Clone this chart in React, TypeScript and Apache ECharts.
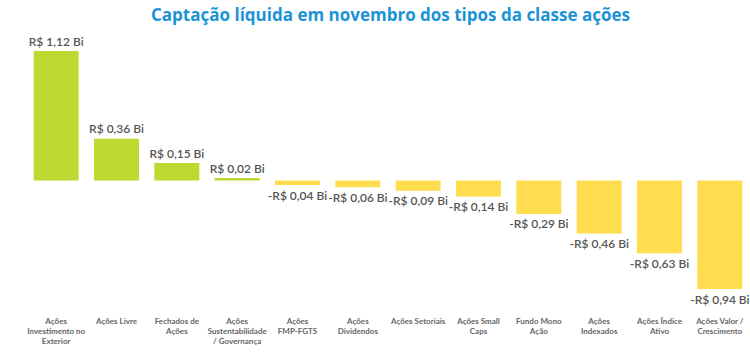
import React, { useEffect, useRef } from "react";
import * as echarts from "echarts";

const title = "Captação líquida em novembro dos tipos da classe ações";
const categories = [
  "Ações\nInvestimento no\nExterior",
  "Ações Livre",
  "Fechados de\nAções",
  "Ações\nSustentabilidade\n/ Governança",
  "Ações\nFMP-FGTS",
  "Ações\nDividendos",
  "Ações Setoriais",
  "Ações Small\nCaps",
  "Fundo Mono\nAção",
  "Ações\nIndexados",
  "Ações Índice\nAtivo",
  "Ações Valor /\nCrescimento",
];
const values = [1.12, 0.36, 0.15, 0.02, -0.04, -0.06, -0.09, -0.14, -0.29, -0.46, -0.63, -0.94];

const fmt = (v: number) => (v < 0 ? "-" : "") + "R$ " + Math.abs(v).toFixed(2).replace(".", ",") + " Bi";

export default function App() {
  const ref = useRef<HTMLDivElement>(null);
  useEffect(() => {
    if (!ref.current) return;
    const chart = echarts.init(ref.current, null, { renderer: "svg" });
    chart.setOption({
      animation: false,
      title: {
        text: title,
        left: 146,
        top: 1,
        textStyle: { fontSize: 17, fontWeight: "bold", color: "#1B93D6", fontFamily: "Open Sans" },
      },
      grid: { left: 26, top: 51, width: 726, height: 238 },
      xAxis: {
        type: "category",
        data: categories,
        axisLine: { show: false, onZero: false },
        axisTick: { show: false },
        axisLabel: {
          interval: 0,
          margin: 27,
          fontSize: 8,
          lineHeight: 10,
          fontWeight: "bold",
          color: "#666666",
          fontFamily: "Lato",
        },
      },
      yAxis: {
        type: "value",
        min: -0.94,
        max: 1.12,
        show: false,
        splitLine: { show: false },
      },
      series: [
        {
          type: "bar",
          barWidth: 45,
          data: values.map((v) => ({
            value: v,
            itemStyle: { color: v >= 0 ? "#C0D832" : "#FFDD4F" },
            label: { position: v >= 0 ? "top" : "bottom" },
          })),
          label: {
            show: true,
            distance: 4,
            formatter: (p: any) => fmt(p.value),
            fontSize: 12,
            color: "#555555",
            fontFamily: "Lato",
            fontWeight: 600,
          },
        },
      ],
    });
    return () => chart.dispose();
  }, []);
  return <div ref={ref} style={{ position: "absolute", left: 0, top: 0, width: 750, height: 355 }} />;
}
